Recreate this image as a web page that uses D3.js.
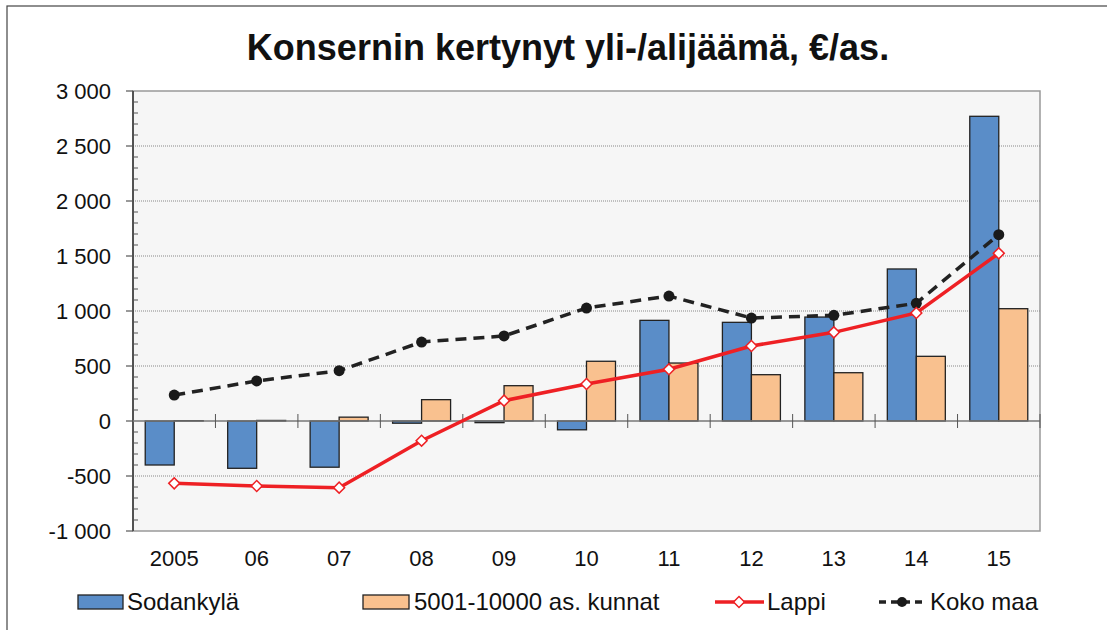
<!DOCTYPE html>
<html>
<head>
<meta charset="utf-8">
<script src="https://cdn.jsdelivr.net/npm/d3@7"></script>
<style>
  body { margin: 0; background: #fff; }
  text { font-family: "Liberation Sans", Arial, sans-serif; fill: #111; }
</style>
</head>
<body>
<script>
const years = ["2005", "06", "07", "08", "09", "10", "11", "12", "13", "14", "15"];
const sodankyla = [-400, -430, -420, -20, -15, -80, 915, 897, 945, 1382, 2770];
const kunnat = [3, 5, 35, 194, 321, 543, 527, 421, 439, 588, 1021];
const lappi = [-567, -591, -606, -179, 185, 336, 470, 682, 806, 982, 1524];
const kokoMaa = [236, 364, 457, 718, 773, 1027, 1136, 936, 961, 1070, 1694];
const yTicks = [-1000, -500, 0, 500, 1000, 1500, 2000, 2500, 3000];

const width = 1107, height = 630;
const plot = { left: 133, right: 1040, top: 91, bottom: 531 };

const svg = d3.select("body").append("svg")
  .attr("width", width)
  .attr("height", height);

// outer chart frame (runs off the right/bottom edge)
svg.append("rect")
  .attr("x", 7).attr("y", 6)
  .attr("width", width + 20).attr("height", height + 20)
  .attr("fill", "#fff")
  .attr("stroke", "#444").attr("stroke-width", 1.2);

svg.append("text")
  .attr("x", 568).attr("y", 60)
  .attr("text-anchor", "middle")
  .style("font-size", "36px")
  .style("font-weight", "bold")
  .text("Konsernin kertynyt yli-/alijäämä, €/as.");

const x = d3.scaleBand().domain(years).range([plot.left, plot.right]);
const y = d3.scaleLinear().domain([-1000, 3000]).range([plot.bottom, plot.top]);

// plot background
svg.append("rect")
  .attr("x", plot.left).attr("y", plot.top)
  .attr("width", plot.right - plot.left).attr("height", plot.bottom - plot.top)
  .attr("fill", "#f6f6f6")
  .attr("stroke", "#999").attr("stroke-width", 1.5);

// gridlines
svg.append("g").selectAll("line")
  .data(yTicks.filter(d => d !== 0 && d !== -1000 && d !== 3000))
  .join("line")
  .attr("x1", plot.left).attr("x2", plot.right)
  .attr("y1", d => y(d)).attr("y2", d => y(d))
  .attr("stroke", "#888").attr("stroke-width", 1)
  .attr("stroke-dasharray", "1,1");

// y axis with minor ticks
const yAxis = svg.append("g").attr("transform", `translate(${plot.left},0)`);
yAxis.append("line")
  .attr("x1", 0).attr("x2", 0)
  .attr("y1", plot.top).attr("y2", plot.bottom)
  .attr("stroke", "#333").attr("stroke-width", 1.5);
yAxis.selectAll(".minor")
  .data(d3.range(-1000, 3001, 100).filter(d => d % 500 !== 0))
  .join("line")
  .attr("x1", 0).attr("x2", 5)
  .attr("y1", d => y(d)).attr("y2", d => y(d))
  .attr("stroke", "#555");
yAxis.selectAll(".major")
  .data(yTicks)
  .join("line")
  .attr("x1", -7).attr("x2", 0)
  .attr("y1", d => y(d)).attr("y2", d => y(d))
  .attr("stroke", "#555").attr("stroke-width", 1.2);
yAxis.selectAll("text")
  .data(yTicks)
  .join("text")
  .attr("x", -22)
  .attr("y", d => y(d) + 8)
  .attr("text-anchor", "end")
  .style("font-size", "22px")
  .text(d => d3.format(",")(d).replace(",", " ").replace("−", "-"));

// bars
const inner = 29;
svg.append("g").selectAll("rect")
  .data(sodankyla)
  .join("rect")
  .attr("x", (d, i) => x(years[i]) + x.bandwidth() / 2 - inner)
  .attr("y", d => y(Math.max(0, d)))
  .attr("width", inner)
  .attr("height", d => Math.abs(y(d) - y(0)))
  .attr("fill", "#5a8dc8")
  .attr("stroke", "#222").attr("stroke-width", 1.3);

svg.append("g").selectAll("rect")
  .data(kunnat)
  .join("rect")
  .attr("x", (d, i) => x(years[i]) + x.bandwidth() / 2)
  .attr("y", d => y(Math.max(0, d)))
  .attr("width", inner)
  .attr("height", d => Math.abs(y(d) - y(0)))
  .attr("fill", "#f9c18f")
  .attr("stroke", "#222").attr("stroke-width", 1.3);

// zero axis with category ticks
svg.append("line")
  .attr("x1", plot.left).attr("x2", plot.right)
  .attr("y1", y(0)).attr("y2", y(0))
  .attr("stroke", "#777").attr("stroke-width", 1.5);
svg.append("g").selectAll("line")
  .data(years.slice(1).concat(["end"]))
  .join("line")
  .attr("x1", (d, i) => i < years.length - 1 ? x(d) : plot.right)
  .attr("x2", (d, i) => i < years.length - 1 ? x(d) : plot.right)
  .attr("y1", y(0) - 7).attr("y2", y(0) + 7)
  .attr("stroke", "#555");

// x labels
svg.append("g").selectAll("text")
  .data(years)
  .join("text")
  .attr("x", d => x(d) + x.bandwidth() / 2)
  .attr("y", 566)
  .attr("text-anchor", "middle")
  .style("font-size", "22px")
  .text(d => d);

const cx = i => x(years[i]) + x.bandwidth() / 2;

// Koko maa line
svg.append("path")
  .datum(kokoMaa)
  .attr("d", d3.line().x((d, i) => cx(i)).y(d => y(d)))
  .attr("fill", "none")
  .attr("stroke", "#222").attr("stroke-width", 3.5)
  .attr("stroke-dasharray", "11,7");
svg.append("g").selectAll("circle")
  .data(kokoMaa)
  .join("circle")
  .attr("cx", (d, i) => cx(i)).attr("cy", d => y(d))
  .attr("r", 5.5)
  .attr("fill", "#1a1a1a");

// Lappi line
svg.append("path")
  .datum(lappi)
  .attr("d", d3.line().x((d, i) => cx(i)).y(d => y(d)))
  .attr("fill", "none")
  .attr("stroke", "#ee2024").attr("stroke-width", 3.5);
svg.append("g").selectAll("path")
  .data(lappi)
  .join("path")
  .attr("transform", (d, i) => `translate(${cx(i)},${y(d)}) rotate(45)`)
  .attr("d", d3.symbol().type(d3.symbolSquare).size(60))
  .attr("fill", "#fff")
  .attr("stroke", "#ee2024").attr("stroke-width", 1.5);

// legend
const ly = 602;
const legend = svg.append("g");
legend.append("rect").attr("x", 78).attr("y", ly - 7).attr("width", 45).attr("height", 14)
  .attr("fill", "#5a8dc8").attr("stroke", "#222").attr("stroke-width", 1.3);
legend.append("text").attr("x", 127).attr("y", ly + 8).style("font-size", "24px").text("Sodankylä");

legend.append("rect").attr("x", 363).attr("y", ly - 7).attr("width", 46).attr("height", 14)
  .attr("fill", "#f9c18f").attr("stroke", "#222").attr("stroke-width", 1.3);
legend.append("text").attr("x", 414).attr("y", ly + 8).style("font-size", "24px").text("5001-10000 as. kunnat");

legend.append("line").attr("x1", 715).attr("x2", 764).attr("y1", ly).attr("y2", ly)
  .attr("stroke", "#ee2024").attr("stroke-width", 3.5);
legend.append("path").attr("transform", `translate(739,${ly}) rotate(45)`)
  .attr("d", d3.symbol().type(d3.symbolSquare).size(60))
  .attr("fill", "#fff").attr("stroke", "#ee2024").attr("stroke-width", 1.5);
legend.append("text").attr("x", 767).attr("y", ly + 8).style("font-size", "24px").text("Lappi");

legend.append("line").attr("x1", 879).attr("x2", 926).attr("y1", ly).attr("y2", ly)
  .attr("stroke", "#222").attr("stroke-width", 3.5).attr("stroke-dasharray", "7,5");
legend.append("circle").attr("cx", 902).attr("cy", ly).attr("r", 5).attr("fill", "#1a1a1a");
legend.append("text").attr("x", 930).attr("y", ly + 8).style("font-size", "24px").text("Koko maa");
</script>
</body>
</html>
